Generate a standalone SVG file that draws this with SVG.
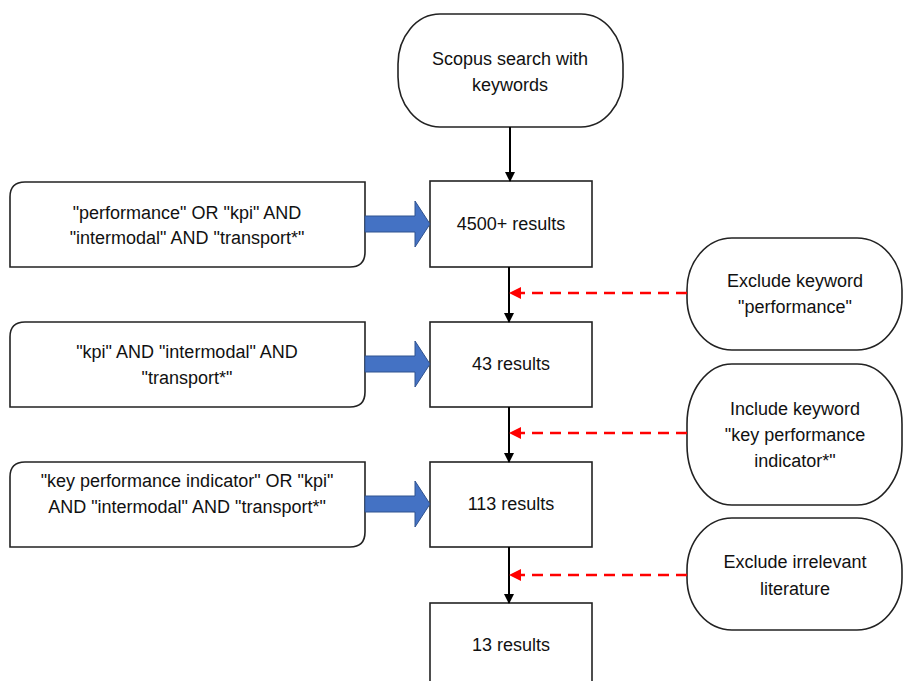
<svg xmlns="http://www.w3.org/2000/svg" width="903" height="681" viewBox="0 0 903 681">
<defs>
<style>
.box{fill:#fff;stroke:#222;stroke-width:1.6}
.t{font-family:"Liberation Sans",Arial,sans-serif;font-size:18px;fill:#111;text-anchor:middle}
.flow{stroke:#000;stroke-width:2;fill:none}
.dash{stroke:#f00;stroke-width:2.5;fill:none;stroke-dasharray:11 7}
.blue{fill:#4472C4;stroke:#2F528F;stroke-width:1}
</style>
<marker id="ab" markerWidth="10" markerHeight="10" refX="9" refY="5" orient="auto" markerUnits="userSpaceOnUse">
<path d="M0,0 L10,5 L0,10 Z" fill="#000"/>
</marker>
<marker id="ar" markerWidth="12" markerHeight="12" refX="11" refY="6" orient="auto" markerUnits="userSpaceOnUse">
<path d="M0,0 L12,6 L0,12 Z" fill="#f00"/>
</marker>
</defs>
<rect width="903" height="681" fill="#fff"/>

<g id="start">
<rect class="box" x="398" y="14" width="225" height="113" rx="42" ry="50"/>
<text class="t" x="510" y="65">Scopus search with</text>
<text class="t" x="510" y="91">keywords</text>
</g>

<g id="r4500">
<rect class="box" x="430" y="181" width="162" height="86"/>
<text class="t" x="511" y="230">4500+ results</text>
</g>
<g id="r43">
<rect class="box" x="430" y="322" width="162" height="85"/>
<text class="t" x="511" y="370">43 results</text>
</g>
<g id="r113">
<rect class="box" x="430" y="462" width="162" height="85"/>
<text class="t" x="511" y="510">113 results</text>
</g>
<g id="r13">
<rect class="box" x="430" y="603" width="162" height="90"/>
<text class="t" x="511" y="651">13 results</text>
</g>

<g id="q1">
<path class="box" d="M25,182 H365 V252 Q365,267 350,267 H10 V197 Q10,182 25,182 Z"/>
<text class="t" x="187" y="219">"performance" OR "kpi" AND</text>
<text class="t" x="187" y="244">"intermodal" AND "transport*"</text>
</g>
<g id="q2">
<path class="box" d="M25,322 H365 V392 Q365,407 350,407 H10 V337 Q10,322 25,322 Z"/>
<text class="t" x="187" y="358">"kpi" AND "intermodal" AND</text>
<text class="t" x="187" y="384">"transport*"</text>
</g>
<g id="q3">
<path class="box" d="M25,462 H365 V532 Q365,547 350,547 H10 V477 Q10,462 25,462 Z"/>
<text class="t" x="187" y="487">"key performance indicator" OR "kpi"</text>
<text class="t" x="187" y="513">AND "intermodal" AND "transport*"</text>
</g>

<g id="f1">
<rect class="box" x="687" y="238" width="215" height="112" rx="45" ry="52"/>
<text class="t" x="795" y="287">Exclude keyword</text>
<text class="t" x="795" y="313">"performance"</text>
</g>
<g id="f2">
<rect class="box" x="687" y="364" width="215" height="141" rx="45" ry="60"/>
<text class="t" x="795" y="415">Include keyword</text>
<text class="t" x="795" y="441">"key performance</text>
<text class="t" x="795" y="467">indicator*"</text>
</g>
<g id="f3">
<rect class="box" x="687" y="518" width="215" height="112" rx="45" ry="52"/>
<text class="t" x="795" y="568">Exclude irrelevant</text>
<text class="t" x="795" y="595">literature</text>
</g>

<g id="connectors">
<line class="flow" x1="510" y1="127" x2="510" y2="181" marker-end="url(#ab)"/>
<line class="flow" x1="509" y1="267" x2="509" y2="322" marker-end="url(#ab)"/>
<line class="flow" x1="509" y1="407" x2="509" y2="462" marker-end="url(#ab)"/>
<line class="flow" x1="509" y1="547" x2="509" y2="603" marker-end="url(#ab)"/>
<line class="dash" x1="687" y1="293" x2="510" y2="293" marker-end="url(#ar)"/>
<line class="dash" x1="687" y1="433" x2="510" y2="433" marker-end="url(#ar)"/>
<line class="dash" x1="687" y1="575" x2="510" y2="575" marker-end="url(#ar)"/>
<path class="blue" d="M365,216 H415 V201 L430,224 L415,247 V232 H365 Z"/>
<path class="blue" d="M365,356 H415 V341 L430,364 L415,387 V372 H365 Z"/>
<path class="blue" d="M365,496 H415 V481 L430,504 L415,527 V512 H365 Z"/>
</g>
</svg>
